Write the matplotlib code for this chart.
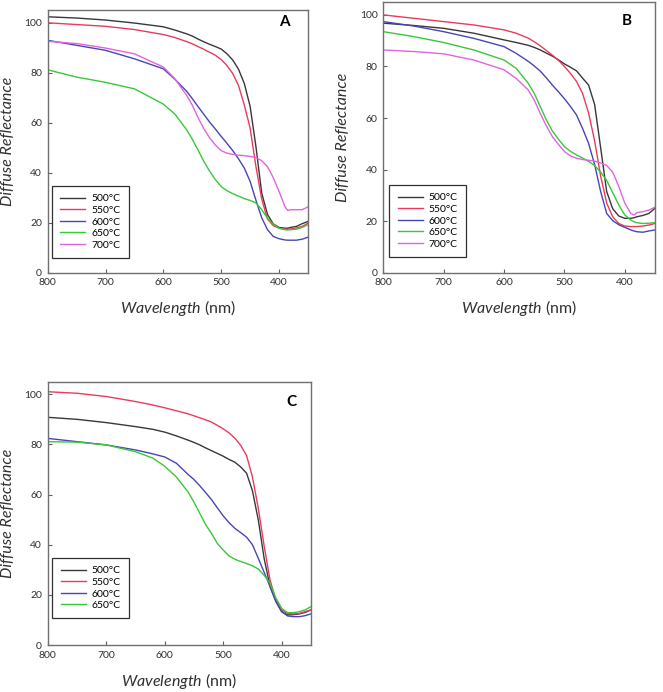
import matplotlib.pyplot as plt

plt.rcParams['font.family'] = 'Lato'
plt.rcParams['mathtext.fontset'] = 'custom'
plt.rcParams['mathtext.rm'] = 'Lato'
plt.rcParams['mathtext.it'] = 'Lato:italic'

# legend labels / colours
labels = ['500°C', '550°C', '600°C', '650°C', '700°C']
colors = ['#383838', '#ec3a5c', '#4646b8', '#38c838', '#e064e0']

# ---- panel A ----
wl_a = [800, 750, 700, 650, 600, 580, 560, 550, 540, 530, 520, 510, 500, 490, 480, 470,
        460, 450, 440, 430, 420, 410, 400, 390, 385, 380, 370, 360, 350]
a_500 = [102.3, 101.8, 101.0, 99.8, 98.3, 97.0, 95.5, 94.6, 93.4, 92.3, 91.3, 90.4, 89.4, 87.5, 85.0, 81.3,
         75.6, 66.5, 50.5, 31.9, 23.3, 19.5, 18.1, 17.8, 17.8, 18.1, 18.5, 19.6, 20.5]
a_550 = [99.9, 99.2, 98.5, 97.2, 95.2, 94.0, 92.4, 91.5, 90.4, 89.3, 88.1, 86.9, 85.2, 82.8, 79.6, 74.8,
         67.0, 57.8, 42.5, 29.5, 21.5, 18.8, 17.8, 17.4, 17.3, 17.5, 17.9, 18.5, 19.8]
a_600 = [92.9, 90.9, 88.9, 85.5, 81.5, 77.3, 72.6, 69.6, 66.4, 63.3, 60.2, 57.4, 54.5, 51.7, 48.8, 45.5,
         41.8, 36.5, 29.0, 22.0, 17.2, 14.5, 13.6, 13.1, 13.0, 13.0, 13.0, 13.4, 14.2]
a_650 = [81.1, 78.2, 76.1, 73.5, 67.4, 63.4, 57.2, 53.4, 49.0, 44.5, 40.6, 37.2, 34.4, 32.8, 31.6, 30.6,
         29.6, 28.9, 27.9, 25.2, 21.8, 19.4, 17.8, 17.2, 17.1, 17.2, 17.4, 18.1, 19.2]
a_700 = [92.5, 91.6, 89.8, 87.5, 82.2, 77.5, 71.0, 67.0, 62.0, 57.5, 53.9, 51.0, 48.8, 47.8, 47.3, 47.0,
         46.8, 46.5, 46.0, 44.8, 42.4, 38.0, 32.5, 26.5, 24.9, 25.2, 25.2, 25.2, 26.3]

# ---- panel B ----
wl_b = [800, 750, 700, 650, 600, 580, 560, 550, 540, 530, 520, 510, 500, 490, 480, 470,
        460, 450, 440, 430, 420, 410, 400, 390, 385, 380, 370, 360, 350]
b_500 = [96.8, 95.9, 94.8, 92.9, 90.3, 89.3, 88.2, 87.4, 86.4, 85.2, 84.0, 82.6, 81.0, 79.7, 78.3, 75.5,
         72.8, 65.3, 48.5, 31.5, 24.8, 22.0, 21.1, 21.1, 21.3, 21.7, 22.2, 23.0, 25.0]
b_550 = [100.0, 98.7, 97.4, 96.1, 94.2, 92.9, 91.0, 89.6, 88.0, 86.2, 84.4, 82.4, 80.0, 77.3, 74.2, 69.6,
         62.0, 51.2, 37.5, 27.0, 21.7, 19.1, 18.1, 17.9, 17.9, 17.9, 18.1, 18.5, 19.1]
b_600 = [97.4, 95.7, 93.5, 90.9, 87.7, 85.1, 82.0, 80.2, 78.2, 75.6, 72.8, 70.2, 67.5, 64.5, 61.2, 56.0,
         50.2, 42.0, 31.5, 23.0, 20.2, 18.6, 17.6, 16.6, 16.2, 15.9, 15.7, 16.2, 16.6]
b_650 = [93.5, 91.6, 89.3, 86.4, 82.5, 79.3, 73.5, 69.6, 64.4, 59.3, 55.0, 51.8, 48.9, 47.1, 45.7, 44.5,
         43.2, 41.6, 39.0, 35.8, 31.0, 26.3, 22.4, 20.4, 19.8, 19.4, 19.1, 19.2, 19.4]
b_700 = [86.4, 85.8, 84.9, 82.5, 78.7, 75.4, 70.9, 67.0, 61.8, 57.0, 52.8, 49.8, 47.0, 45.3, 44.4, 43.9,
         43.6, 43.3, 42.6, 41.6, 39.0, 33.5, 27.0, 23.0, 22.4, 23.3, 23.7, 24.3, 25.4]

# ---- panel C ----
wl_c = [800, 750, 700, 650, 620, 600, 580, 560, 550, 540, 530, 520, 510, 500, 490, 480, 470,
        460, 450, 440, 430, 420, 410, 400, 390, 380, 370, 360, 350]
c_500 = [90.8, 90.0, 88.7, 87.1, 86.0, 84.9, 83.4, 81.7, 80.8, 79.8, 78.6, 77.5, 76.4, 75.3, 74.0, 72.9, 71.0,
         68.5, 61.5, 49.9, 34.5, 23.5, 17.5, 13.3, 12.0, 12.1, 12.4, 13.0, 14.0]
c_550 = [101.0, 100.4, 99.1, 97.1, 95.7, 94.6, 93.4, 92.2, 91.4, 90.6, 89.8, 88.9, 87.6, 86.2, 84.6, 82.5, 79.6,
         75.5, 67.0, 54.5, 39.5, 26.0, 18.0, 14.0, 12.6, 12.4, 12.6, 13.3, 14.0]
c_600 = [82.4, 81.1, 79.8, 77.8, 76.2, 75.0, 72.5, 68.0, 66.0, 63.5, 60.8, 58.0, 54.7, 51.5, 48.8, 46.5, 44.8,
         43.0, 40.0, 34.6, 29.0, 23.3, 17.3, 13.3, 11.6, 11.3, 11.3, 11.7, 12.4]
c_650 = [81.1, 80.9, 79.8, 77.1, 74.5, 71.3, 67.0, 61.0, 57.0, 52.5, 48.0, 44.5, 40.5, 37.9, 35.5, 34.2, 33.3,
         32.5, 31.6, 30.3, 27.8, 24.6, 18.8, 14.6, 12.9, 12.9, 13.3, 14.0, 15.3]


def panel(rect, wl, series, letter, letter_pos, leg_anchor):
    ax = fig.add_axes(rect)
    for ys, lab, col in zip(series, labels, colors):
        ax.plot(wl, ys, color=col, lw=1.0, label=lab)
    ax.set_xlim(800, 350)
    ax.set_ylim(0, 105)
    ax.set_xticks([800, 700, 600, 500, 400])
    ax.set_yticks([0, 20, 40, 60, 80, 100])
    ax.tick_params(direction='in', length=3, width=0.8, color='#606060',
                   labelsize=7.5, labelcolor='#303030', pad=4)
    for s in ax.spines.values():
        s.set_color('#707070')
        s.set_linewidth(1.0)
    ax.set_xlabel(r'$\mathit{Wavelength}$ (nm)', fontsize=11.5, color='#303030', labelpad=8)
    ax.set_ylabel('Diffuse Reflectance', fontsize=11.5, style='italic', color='#303030', labelpad=7)
    ax.text(letter_pos[0], letter_pos[1], letter, transform=ax.transAxes, fontsize=11,
            fontweight='bold', ha='center', va='center')
    leg = ax.legend(loc='lower left', bbox_to_anchor=leg_anchor, borderaxespad=0,
                    fontsize=7.5, handlelength=2.4, handletextpad=0.6, labelspacing=0.22,
                    fancybox=False, framealpha=1, edgecolor='#303030', borderpad=0.8)
    leg.get_frame().set_linewidth(0.9)
    return ax


fig = plt.figure(figsize=(6.63, 6.92), dpi=100)

panel([0.0719, 0.6059, 0.3926, 0.3796], wl_a, [a_500, a_550, a_600, a_650, a_700], 'A',
      (0.908, 0.954), (0.0165, 0.056))
panel([0.5781, 0.6059, 0.4098, 0.3912], wl_b, [b_500, b_550, b_600, b_650, b_700], 'B',
      (0.897, 0.930), (0.022, 0.058))
panel([0.0719, 0.0679, 0.3971, 0.3805], wl_c, [c_500, c_550, c_600, c_650], 'C',
      (0.924, 0.923), (0.0175, 0.101))

fig.savefig('out.png', dpi=100)
